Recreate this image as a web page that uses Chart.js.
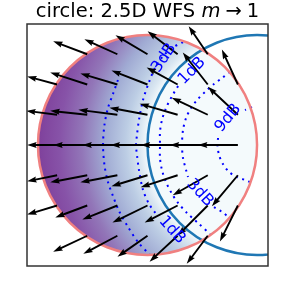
<!DOCTYPE html>
<html>
<head>
<meta charset="utf-8">
<script src="https://cdn.jsdelivr.net/npm/chart.js@4.4.0/dist/chart.umd.min.js"></script>
<style>
html,body{margin:0;padding:0;background:#fff;}
#wrap{width:291px;height:287px;}
</style>
</head>
<body>
<div id="wrap"><canvas id="c" width="291" height="287"></canvas></div>
<script>
// ----- datos -----
// círculos: [0] array (rosa), [1] referencia (azul)
const circleX = [0, 1];
const circleY = [0, 0];
const circleR = [1, 1];

// campo de flechas (cola x,y ; vector u,v)
const quiverX = [-0.55,-0.275,0,0.275,0.55,
  -0.825,-0.55,-0.275,0,0.275,0.55,0.825,
  -0.825,-0.55,-0.275,0,0.275,0.55,0.825,
  -0.825,-0.55,-0.275,0,0.275,0.55,0.825,
  -0.825,-0.55,-0.275,0,0.275,0.55,0.825,
  -0.825,-0.55,-0.275,0,0.275,0.55,0.825,
  -0.55,-0.275,0,0.275,0.55];
const quiverY = [0.825,0.825,0.825,0.825,0.825,
  0.55,0.55,0.55,0.55,0.55,0.55,0.55,
  0.275,0.275,0.275,0.275,0.275,0.275,0.275,
  0,0,0,0,0,0,0,
  -0.275,-0.275,-0.275,-0.275,-0.275,-0.275,-0.275,
  -0.55,-0.55,-0.55,-0.55,-0.55,-0.55,-0.55,
  -0.825,-0.825,-0.825,-0.825,-0.825];
const quiverU = [-0.311,-0.301,-0.292,-0.274,-0.174,
  -0.274,-0.338,-0.338,-0.329,-0.283,-0.228,-0.146,
  -0.283,-0.338,-0.356,-0.347,-0.347,-0.329,-0.274,
  -0.274,-0.311,-0.320,-0.338,-0.338,-0.347,-0.365,
  -0.274,-0.338,-0.338,-0.329,-0.338,-0.320,-0.237,
  -0.274,-0.292,-0.320,-0.320,-0.301,-0.274,-0.164,
  -0.311,-0.311,-0.274,-0.256,-0.192];
const quiverV = [0.118,0.136,0.173,0.209,0.255,
  0.073,0.109,0.100,0.127,0.155,0.291,0.318,
  0.036,0.036,0.045,0.064,0.100,0.155,0.255,
  0,0,0,0,0,0,0,
  -0.055,-0.064,-0.064,-0.100,-0.109,-0.182,-0.282,
  -0.082,-0.109,-0.127,-0.155,-0.155,-0.273,-0.327,
  -0.145,-0.164,-0.191,-0.236,-0.255];

// curvas de nivel (null = hueco de la etiqueta)
const c3aX = [-0.27,-0.315,-0.361,-0.393,-0.406,-0.393,-0.361,-0.315,-0.26,-0.178,-0.087,0.023];
const c3aY = [0.591,0.464,0.336,0.182,0,-0.182,-0.336,-0.464,-0.60,-0.745,-0.882,-1.0];
const c1aX = [0.324,0.224,0.142,0.068,0.014,-0.041,-0.078,-0.096,-0.105,-0.096,-0.078,-0.041,0.014,0.078];
const c1aY = [0.936,0.882,0.809,0.700,0.573,0.409,0.227,0.091,0,-0.091,-0.227,-0.409,-0.536,-0.627];
const c1bX = [0.279,0.224,0.169,0.132,0.114,0.114,0.114,0.132,0.169,0.224,0.279,0.361,0.461,0.571];
const c1bY = [0.536,0.445,0.336,0.227,0.118,0,-0.118,-0.227,-0.336,-0.445,-0.527,-0.618,-0.709,-0.809];
const c3bX = [0.753,0.68,0.607,0.534,0.461,0.397,0.352,0.324,0.315,0.324,0.352,0.37,null,0.607,0.68,0.753];
const c3bY = [0.664,0.609,0.555,0.491,0.418,0.336,0.245,0.136,0,-0.118,-0.227,-0.291,null,-0.564,-0.609,-0.664];
const c9X = [0.954,0.89,null,0.644,0.639,0.653,0.689,0.744,0.817,0.89,0.954];
const c9Y = [0.345,0.318,null,0.064,0,-0.091,-0.173,-0.245,-0.291,-0.318,-0.345];

// etiquetas de las curvas
const labelText = ['3dB','1dB','9dB','3dB','1dB'];
const labelX = [0.151,0.406,0.735,0.479,0.224];
const labelY = [0.791,0.673,0.245,-0.436,-0.773];
const labelAngle = [-56,-45,-50,47,48];

const titleParts = ['circle: 2.5D WFS ', 'm', '\u2192', '1'];

// ----- estilos -----
const contourColor = '#0000ff';
const shadeStops = [[0,'#f4fafc'],[0.07,'#d9e6f1'],[0.18,'#bccde4'],[0.36,'#a0aad3'],
  [0.545,'#9276b8'],[0.73,'#8753a8'],[1,'#7b3795']];

const pts = (xs, ys) => xs.map((v,i)=>({x: v, y: ys[i]}));
function contourSet(xs, ys){
  return { data: pts(xs, ys), showLine:true, pointRadius:0, borderColor: contourColor,
    borderWidth:2, borderDash:[2,4.5], borderCapStyle:'butt', tension:0.3, spanGaps:false };
}

function clipArea(ctx, a){
  ctx.beginPath(); ctx.rect(a.left, a.top, a.width, a.height); ctx.clip();
}

const drawPlugin = {
  id:'wfs',
  beforeDatasetsDraw(chart){
    const {ctx, chartArea:a, scales:{x:sx, y:sy}} = chart;
    ctx.save(); clipArea(ctx, a);
    const cx = sx.getPixelForValue(circleX[0]), cy = sy.getPixelForValue(circleY[0]);
    const rx = sx.getPixelForValue(circleX[0]+circleR[0]) - cx;
    const ry = cy - sy.getPixelForValue(circleY[0]+circleR[0]);
    const gx = sx.getPixelForValue(circleX[1]), gy = sy.getPixelForValue(circleY[1]);
    const g0 = sx.getPixelForValue(circleX[1]+circleR[1]) - gx;
    const grad = ctx.createRadialGradient(gx, gy, g0, gx, gy, g0*2.1);
    shadeStops.forEach(([t,c])=>grad.addColorStop(t,c));
    ctx.fillStyle = grad;
    ctx.beginPath(); ctx.ellipse(cx, cy, rx, ry, 0, 0, Math.PI*2); ctx.fill();
    ctx.restore();
  },
  afterDatasetsDraw(chart){
    const {ctx, chartArea:a, scales:{x:sx, y:sy}} = chart;
    ctx.save(); clipArea(ctx, a);
    // círculos
    const colors = ['#f08080', '#1f77b4'];
    [1,0].forEach(k=>{
      const cx = sx.getPixelForValue(circleX[k]), cy = sy.getPixelForValue(circleY[k]);
      const rx = sx.getPixelForValue(circleX[k]+circleR[k]) - cx;
      const ry = cy - sy.getPixelForValue(circleY[k]+circleR[k]);
      ctx.strokeStyle = colors[k]; ctx.lineWidth = 2.5;
      ctx.beginPath(); ctx.ellipse(cx, cy, rx, ry, 0, 0, Math.PI*2); ctx.stroke();
    });
    // flechas (estilo quiver)
    const w = 1.9;
    ctx.fillStyle = '#000';
    quiverX.forEach((qx,i)=>{
      const x0 = sx.getPixelForValue(qx), y0 = sy.getPixelForValue(quiverY[i]);
      const x1 = sx.getPixelForValue(qx+quiverU[i]), y1 = sy.getPixelForValue(quiverY[i]+quiverV[i]);
      const L = Math.hypot(x1-x0, y1-y0);
      ctx.save();
      ctx.translate(x0, y0); ctx.rotate(Math.atan2(y1-y0, x1-x0));
      ctx.beginPath();
      ctx.moveTo(0, -w/2);
      ctx.lineTo(L-4.5*w, -w/2);
      ctx.lineTo(L-5*w, -1.6*w);
      ctx.lineTo(L, 0);
      ctx.lineTo(L-5*w, 1.6*w);
      ctx.lineTo(L-4.5*w, w/2);
      ctx.lineTo(0, w/2);
      ctx.closePath(); ctx.fill();
      ctx.restore();
    });
    // etiquetas de nivel
    ctx.fillStyle = contourColor;
    ctx.font = '16px "DejaVu Sans"';
    ctx.textAlign = 'center'; ctx.textBaseline = 'middle';
    labelText.forEach((t,i)=>{
      ctx.save();
      ctx.translate(sx.getPixelForValue(labelX[i]), sy.getPixelForValue(labelY[i]));
      ctx.rotate(labelAngle[i]*Math.PI/180);
      ctx.fillText(t, 0, 0);
      ctx.restore();
    });
    ctx.restore();
    // marco
    ctx.save();
    ctx.strokeStyle = '#333'; ctx.lineWidth = 1.5;
    ctx.strokeRect(a.left, a.top, a.width, a.height);
    ctx.restore();
  },
  afterDraw(chart){
    const {ctx, chartArea:a} = chart;
    ctx.save();
    ctx.fillStyle = '#000'; ctx.textBaseline = 'alphabetic';
    const up = '19.5px "DejaVu Sans"', it = 'italic 19.5px "DejaVu Sans"';
    const gap = 5;
    ctx.font = up; const w0 = ctx.measureText(titleParts[0]).width;
    ctx.font = it; const w1 = ctx.measureText(titleParts[1]).width;
    ctx.font = up; const w2 = ctx.measureText(titleParts[2]).width, w3 = ctx.measureText(titleParts[3]).width;
    const total = w0 + w1 + gap + w2 + gap + w3;
    let x = (a.left + a.right)/2 - total/2;
    const y = 16.5;
    ctx.textAlign = 'left';
    ctx.font = up; ctx.fillText(titleParts[0], x, y); x += w0;
    ctx.font = it; ctx.fillText(titleParts[1], x, y); x += w1 + gap;
    ctx.font = up; ctx.fillText(titleParts[2], x, y); x += w2 + gap;
    ctx.fillText(titleParts[3], x, y);
    ctx.restore();
  }
};

new Chart(document.getElementById('c'), {
  type:'scatter',
  data:{ datasets:[
    contourSet(c3aX, c3aY),
    contourSet(c1aX, c1aY),
    contourSet(c1bX, c1bY),
    contourSet(c3bX, c3bY),
    contourSet(c9X, c9Y)
  ]},
  options:{
    responsive:false, animation:false, devicePixelRatio:1,
    layout:{ padding:{ left:27, right:23, top:24, bottom:21 } },
    plugins:{ legend:{display:false}, tooltip:{enabled:false}, title:{display:false} },
    scales:{
      x:{ type:'linear', min:-1.1, max:1.1, display:false },
      y:{ type:'linear', min:-1.1, max:1.1, display:false }
    }
  },
  plugins:[drawPlugin]
});
</script>
</body>
</html>
